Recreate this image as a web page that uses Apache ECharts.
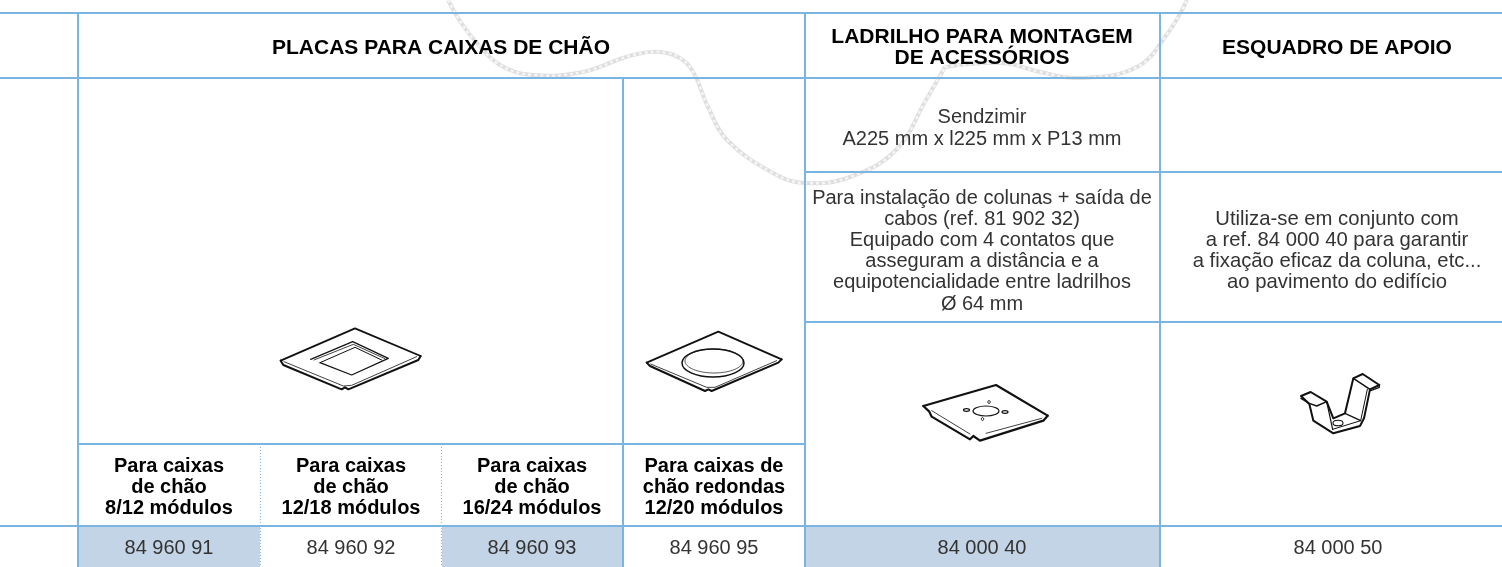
<!DOCTYPE html>
<html><head><meta charset="utf-8">
<style>html,body{margin:0;padding:0;background:#fff}#c{width:1502px;height:567px}</style>
<script src="https://cdn.jsdelivr.net/npm/echarts@6/dist/echarts.min.js"></script>
</head><body><div id="c"></div>
<script>
const headers = ["PLACAS PARA CAIXAS DE CHÃO", "LADRILHO PARA MONTAGEM\nDE ACESSÓRIOS", "ESQUADRO DE APOIO"];
const subHeaders = ["Para caixas\nde chão\n8/12 módulos", "Para caixas\nde chão\n12/18 módulos", "Para caixas\nde chão\n16/24 módulos", "Para caixas de\nchão redondas\n12/20 módulos"];
const references = ["84 960 91", "84 960 92", "84 960 93", "84 960 95", "84 000 40", "84 000 50"];
const materialText = "Sendzimir\nA225 mm x l225 mm x P13 mm";
const useText1 = "Para instalação de colunas + saída de\ncabos (ref. 81 902 32)\nEquipado com 4 contatos que\nasseguram a distância e a\nequipotencialidade entre ladrilhos\nØ 64 mm";
const useText2 = "Utiliza-se em conjunto com\na ref. 84 000 40 para garantir\na fixação eficaz da coluna, etc...\nao pavimento do edifício";

const BLUE = "#7ab5e2", FILL = "#c3d4e6", INK = "#000", BODY = "#333";
const els = [];
const rect = (x, y, w, h, fill) => els.push({type:"rect", silent:true, shape:{x, y, width:w, height:h}, style:{fill}});
const hline = (x1, x2, y, w = 2) => rect(x1, y - w / 2, x2 - x1, w, BLUE);
const vline = (x, y1, y2, w = 2) => rect(x - w / 2, y1, w, y2 - y1, BLUE);
const dotted = (x, y1, y2) => els.push({type:"line", silent:true, shape:{x1:x, y1, x2:x, y2}, style:{stroke:BLUE, lineWidth:1, lineDash:[1, 2]}});
const label = (x, y, text, size, weight, fill, lh) => els.push({type:"text", silent:true, x, y, style:{text, fontFamily:"Liberation Sans", fontSize:size, fontWeight:weight, fill, align:"center", verticalAlign:"middle", lineHeight:lh}});
const stroke = (ox, oy, pts, lw = 1.2) => els.push({type:"polyline", silent:true, shape:{points:pts.map(p => [ox + p[0] / 3, oy + p[1] / 3])}, style:{stroke:"#111", lineWidth:lw, fill:"none", lineJoin:"round", lineCap:"round"}});
const oval = (cx, cy, rx, ry, lw = 1.2) => els.push({type:"ellipse", silent:true, shape:{cx, cy, rx, ry}, style:{stroke:"#111", lineWidth:lw, fill:"none"}});

// background rope
const rope1 = [[448,0],[462,24],[477,43],[500,65],[533,75],[583,72],[633,55],[667,53],[690,67],[708,107],[727,140],[773,173],[804,183],[850,177],[896,150],[926,100],[945,67]];
const rope2 = [[945,67],[1003,63],[1040,72],[1080,78],[1137,67],[1168,33],[1187,0]];
[rope1, rope2].forEach(points => {
  els.push({type:"polyline", silent:true, shape:{points, smooth:0.4}, style:{stroke:"#dedede", lineWidth:4, fill:"none"}});
  els.push({type:"polyline", silent:true, shape:{points, smooth:0.4}, style:{stroke:"#f6f6f6", lineWidth:2.5, lineDash:[3, 3], fill:"none"}});
});

// shaded reference cells
rect(79, 527, 181, 40, FILL);
rect(442, 527, 181, 40, FILL);
rect(806, 527, 354, 40, FILL);

// grid
hline(0, 1502, 13);
hline(0, 1502, 78);
hline(805, 1502, 172);
hline(805, 1502, 322);
hline(78, 805, 444);
hline(0, 1502, 526);
vline(78, 13, 567);
vline(805, 13, 567);
vline(1160, 13, 567);
vline(623, 78, 567);
dotted(260.5, 444, 567);
dotted(441.5, 444, 567);

// text
label(441, 48, headers[0], 21, "bold", INK, 21);
label(982, 48, headers[1], 21, "bold", INK, 21);
label(1337, 48, headers[2], 21, "bold", INK, 21);
[169, 351, 532, 714].forEach((x, i) => label(x, 487, subHeaders[i], 20, "bold", INK, 21));
[169, 351, 532, 714, 982, 1338].forEach((x, i) => label(x, 548, references[i], 20, "normal", BODY, 20));
label(982, 128, materialText, 20, "normal", BODY, 22);
label(982, 251, useText1, 20, "normal", BODY, 21.2);
label(1337, 251, useText2, 20.3, "normal", BODY, 21.2);

// icon: square-window plate
const a = [240, 310];
stroke(a[0], a[1], [[122,152],[345,55],[542,138]], 1.8);
stroke(a[0], a[1], [[122,152],[130,165],[305,238],[315,232],[325,238],[535,150],[542,138]], 2);
stroke(a[0], a[1], [[132,155],[310,228],[335,226],[530,140]], 0.8);
stroke(a[0], a[1], [[212,148],[338,95],[445,145],[335,195],[240,158]], 1.2);
stroke(a[0], a[1], [[222,150],[340,103],[435,146]], 0.8);
stroke(a[0], a[1], [[240,158],[345,112],[425,150]], 1);

// icon: round-hole plate
const b = [630, 330];
stroke(b[0], b[1], [[50,98],[265,5],[455,88]], 1.8);
stroke(b[0], b[1], [[50,98],[60,108],[225,183],[235,178],[245,183],[445,98],[455,88]], 2);
stroke(b[0], b[1], [[62,102],[230,172],[255,172],[440,92]], 0.8);
oval(713, 363, 31, 14, 1.5);
oval(714, 361, 29, 12, 0.7);

// icon: tile for accessories
const c = [880, 350];
stroke(c[0], c[1], [[130,168],[348,105],[503,197]], 2.2);
stroke(c[0], c[1], [[130,168],[148,185],[155,200],[270,268],[280,258],[300,272],[490,212],[503,197]], 2.2);
stroke(c[0], c[1], [[155,182],[270,252]], 0.8);
stroke(c[0], c[1], [[318,250],[485,205]], 0.8);
oval(986, 411, 13, 5, 1.1);
oval(966.5, 410, 3, 1.3, 1.2);
oval(1005, 412, 3, 1.3, 1.2);
oval(989, 402, 1.2, 1.5, 1);
oval(982.5, 419, 1.2, 1.5, 1);

// icon: support bracket
const d = [1270, 350];
stroke(d[0], d[1], [[93,138],[122,126],[170,155],[190,205],[225,190],[250,85],[278,72],[328,105],[300,118],[282,205],[270,228],[190,250],[130,212],[118,162],[93,138]], 2);
stroke(d[0], d[1], [[93,145],[118,160],[140,168],[170,155]], 1.5);
stroke(d[0], d[1], [[250,85],[300,118]], 1.5);
stroke(d[0], d[1], [[328,105],[328,112],[302,122]], 1.3);
stroke(d[0], d[1], [[292,118],[272,212],[188,238]], 1);
stroke(d[0], d[1], [[170,155],[188,238]], 1.2);
stroke(d[0], d[1], [[225,190],[272,212]], 1.2);
oval(1338, 423, 5, 2.8, 1.1);

const chart = echarts.init(document.getElementById("c"), null, {renderer:"canvas"});
chart.setOption({animation:false, graphic:{elements:els}});
</script></body></html>
